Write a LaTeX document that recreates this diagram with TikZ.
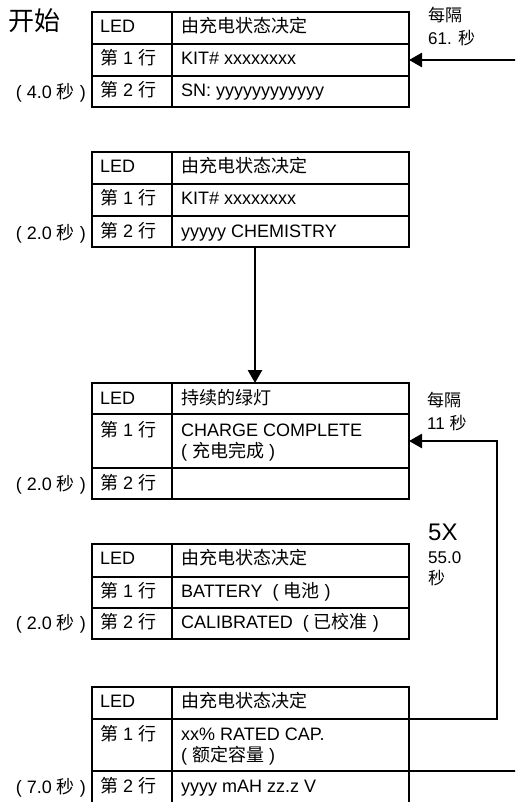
\documentclass[tikz,border=0pt]{standalone}
\usepackage{fontspec}
\setmainfont{Liberation Sans}
\newfontfamily\cjk{Noto Sans CJK SC}
\usetikzlibrary{arrows.meta}
\newcommand\zhs[1]{{\cjk #1}}
\tikzset{
  tbl/.style={draw, line width=2.7pt, minimum width=317pt, inner sep=0pt, outer sep=0pt},
  rulel/.style={line width=2.7pt},
  txt/.style={anchor=base west, inner sep=0pt, font=\fontsize{18}{21}\selectfont},
  lbl/.style={anchor=base east, inner sep=0pt, font=\fontsize{18}{21}\selectfont},
  side/.style={anchor=base west, inner sep=0pt, font=\fontsize{17}{20}\selectfont},
  big/.style={anchor=base west, inner sep=0pt, font=\fontsize{26}{30}\selectfont},
  conn/.style={line width=2.7pt, -{Triangle[length=13pt,width=14pt]}},
  plain/.style={line width=2.7pt},
}
% name, top, r1, r2, bottom
\newcommand\mktab[5]{%
  \node[tbl, minimum height={#5pt-#2pt}] (#1) at (250.5,{(#2+#5)/2}) {};
  \draw[rulel] (92,#3) -- (409,#3);
  \draw[rulel] (92,#4) -- (409,#4);
  \draw[rulel] (172,#2) -- (172,#5);
}
\begin{document}
\begin{tikzpicture}[x=1pt,y=-1pt]
\useasboundingbox (0,0) rectangle (515,802);
\clip (0,0) rectangle (515,802);
\fill[white] (0,0) rectangle (515,802);

% start label
\node[big] (start) at (8,31) {\zhs{开始}};

% table 1
\mktab{t1}{12}{44}{76}{107}
\node[txt] (t1a) at (100,33) {LED};
\node[txt] (t1b) at (181,33) {\zhs{由充电状态决定}};
\node[txt] (t1c) at (100,65) {\zhs{第} 1 \zhs{行}};
\node[txt] (t1d) at (181,65) {KIT\# xxxxxxxx};
\node[txt] (t1e) at (100,97) {\zhs{第} 2 \zhs{行}};
\node[txt] (t1f) at (181,97) {SN: yyyyyyyyyyyy};
\node[lbl] (t1t) at (86,99) {(~4.0~\zhs{秒}~)};

% table 2
\mktab{t2}{152}{184}{216}{247}
\node[txt] (t2a) at (100,173) {LED};
\node[txt] (t2b) at (181,173) {\zhs{由充电状态决定}};
\node[txt] (t2c) at (100,205) {\zhs{第} 1 \zhs{行}};
\node[txt] (t2d) at (181,205) {KIT\# xxxxxxxx};
\node[txt] (t2e) at (100,237) {\zhs{第} 2 \zhs{行}};
\node[txt] (t2f) at (181,237) {yyyyy CHEMISTRY};
\node[lbl] (t2t) at (86,239) {(~2.0~\zhs{秒}~)};

% table 3
\mktab{t3}{383}{414}{468}{499}
\node[txt] (t3a) at (100,404) {LED};
\node[txt] (t3b) at (181,404) {\zhs{持续的绿灯}};
\node[txt] (t3c) at (100,436) {\zhs{第} 1 \zhs{行}};
\node[txt] (t3d) at (181,436) {CHARGE COMPLETE};
\node[txt] (t3d2) at (181,457) {(~\zhs{充电完成}~)};
\node[txt] (t3e) at (100,489) {\zhs{第} 2 \zhs{行}};
\node[lbl] (t3t) at (86,490) {(~2.0~\zhs{秒}~)};

% table 4
\mktab{t4}{544}{577}{608}{639}
\node[txt] (t4a) at (100,564) {LED};
\node[txt] (t4b) at (181,564) {\zhs{由充电状态决定}};
\node[txt] (t4c) at (100,597) {\zhs{第} 1 \zhs{行}};
\node[txt] (t4d) at (181,597) {BATTERY~~(~\zhs{电池}~)};
\node[txt] (t4e) at (100,628) {\zhs{第} 2 \zhs{行}};
\node[txt] (t4f) at (181,628) {CALIBRATED~~(~\zhs{已校准}~)};
\node[lbl] (t4t) at (86,629) {(~2.0~\zhs{秒}~)};

% table 5 (bottom cut off)
\mktab{t5}{687}{719}{771}{840}
\node[txt] (t5a) at (100,707) {LED};
\node[txt] (t5b) at (181,707) {\zhs{由充电状态决定}};
\node[txt] (t5c) at (100,740) {\zhs{第} 1 \zhs{行}};
\node[txt] (t5d) at (181,740) {xx\% RATED CAP.};
\node[txt] (t5d2) at (181,761) {(~\zhs{额定容量}~)};
\node[txt] (t5e) at (100,792) {\zhs{第} 2 \zhs{行}};
\node[txt] (t5f) at (181,792) {yyyy mAH zz.z V};
\node[lbl] (t5t) at (86,793) {(~7.0~\zhs{秒}~)};

% side labels
\node[side] (s1a) at (428,22) {\zhs{每隔}};
\node[side] (s1b) at (428,45) {61. \zhs{秒}};
\node[side] (s2a) at (427,406) {\zhs{每隔}};
\node[side] (s2b) at (427,429) {11 \zhs{秒}};
\node[anchor=base west, inner sep=0pt, font=\fontsize{24}{28}\selectfont] (s3a) at (428,540) {5X};
\node[side] (s3b) at (428,563) {55.0};
\node[side] (s3c) at (428,584) {\zhs{秒}};

% connectors
\coordinate (in1) at (520,60);
\draw[conn] (in1) -- (t1.east |- in1);

\draw[conn] ([xshift=4.5pt]t2.south) -- ([xshift=4.5pt]t3.north);

\coordinate (lpA) at (497,719);
\coordinate (lpB) at (497,441);
\draw[conn] (t5.east |- lpA) -- (lpA) -- (lpB) -- (t3.east |- lpB);

\coordinate (out1) at (520,771);
\draw[plain] (t5.east |- out1) -- (out1);
\end{tikzpicture}
\end{document}
